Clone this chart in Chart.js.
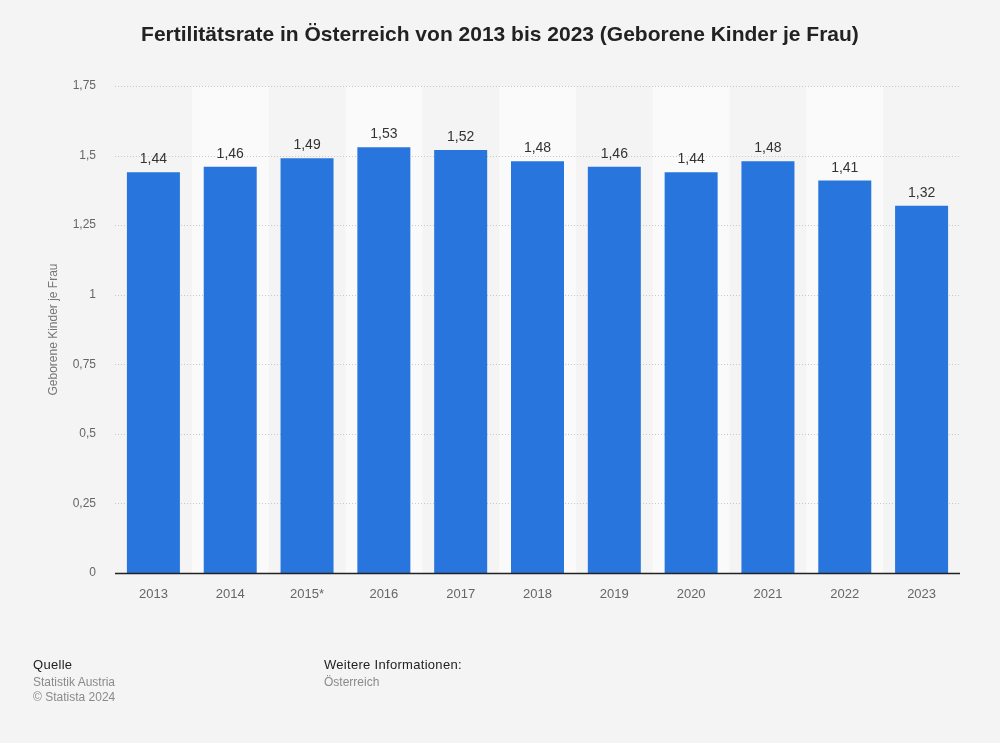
<!DOCTYPE html>
<html>
<head>
<meta charset="utf-8">
<script src="https://cdn.jsdelivr.net/npm/chart.js@4"></script>
<style>
  html, body { margin:0; padding:0; background:#f4f4f4; }
  #wrap { position:relative; width:1000px; height:743px; font-family:"Liberation Sans", Arial, sans-serif; }
  #c { position:absolute; left:0; top:0; }
  .t { position:absolute; white-space:nowrap; }
  #title { left:0; width:1000px; top:22px; text-align:center; font-weight:bold; font-size:21px; color:#222; }
  .f1 { font-size:13px; color:#222; letter-spacing:0.3px; }
  .f2 { font-size:12px; color:#8a8a8a; }
</style>
</head>
<body>
<div id="wrap">
  <canvas id="c" width="1000" height="743"></canvas>
  <div class="t" id="title">Fertilitätsrate in Österreich von 2013 bis 2023 (Geborene Kinder je Frau)</div>
  <div class="t f1" style="left:33px; top:657px;">Quelle</div>
  <div class="t f2" style="left:33px; top:675px;">Statistik Austria</div>
  <div class="t f2" style="left:33px; top:690px;">© Statista 2024</div>
  <div class="t f1" style="left:324px; top:657px;">Weitere Informationen:</div>
  <div class="t f2" style="left:324px; top:675px;">Österreich</div>
</div>
<script>
const categories = ["2013","2014","2015*","2016","2017","2018","2019","2020","2021","2022","2023"];
const values = [1.44,1.46,1.49,1.53,1.52,1.48,1.46,1.44,1.48,1.41,1.32];
const yTicks = [0,0.25,0.5,0.75,1,1.25,1.5,1.75];
const yTitle = "Geborene Kinder je Frau";

const fmt = v => String(v).replace('.', ',');

const bandPlugin = {
  id: 'bands',
  beforeDatasetsDraw(chart) {
    const {ctx, chartArea, scales} = chart;
    const x = scales.x;
    const n = categories.length;
    const w = (chartArea.right - chartArea.left) / n;
    ctx.save();
    for (let i = 0; i < n; i++) {
      if (i % 2 === 1) {
        ctx.fillStyle = '#fafafa';
        const cx = x.getPixelForValue(i);
        ctx.fillRect(cx - w/2, chartArea.top, w, chartArea.bottom - chartArea.top);
      }
    }
    ctx.strokeStyle = '#c8c8c8';
    ctx.lineWidth = 1;
    ctx.setLineDash([1, 2]);
    const y = scales.y;
    yTicks.forEach(t => {
      if (t === 0) return;
      const py = Math.round(y.getPixelForValue(t)) + 0.5;
      ctx.beginPath();
      ctx.moveTo(chartArea.left, py);
      ctx.lineTo(chartArea.right, py);
      ctx.stroke();
    });
    ctx.restore();
  },
  afterDatasetsDraw(chart) {
    const {ctx} = chart;
    const meta = chart.getDatasetMeta(0);
    ctx.save();
    ctx.fillStyle = '#333';
    ctx.font = '14px "Liberation Sans", Arial, sans-serif';
    ctx.textAlign = 'center';
    ctx.textBaseline = 'alphabetic';
    meta.data.forEach((bar, i) => {
      ctx.fillText(fmt(values[i]), bar.x, bar.y - 9);
    });
    const ca = chart.chartArea;
    ctx.strokeStyle = '#222';
    ctx.lineWidth = 1.5;
    ctx.setLineDash([]);
    ctx.beginPath();
    ctx.moveTo(ca.left, ca.bottom + 0.5);
    ctx.lineTo(ca.right, ca.bottom + 0.5);
    ctx.stroke();
    ctx.restore();
  }
};

new Chart(document.getElementById('c'), {
  type: 'bar',
  data: {
    labels: categories,
    datasets: [{
      data: values,
      backgroundColor: '#2876dd',
      borderWidth: 0,
      categoryPercentage: 1,
      barPercentage: 0.69
    }]
  },
  options: {
    responsive: false,
    animation: false,
    events: [],
    layout: { padding: { left: 0, right: 40, top: 86, bottom: 0 } },
    plugins: { legend: { display: false }, tooltip: { enabled: false }, title: { display: false } },
    scales: {
      x: {
        grid: { display: false, drawTicks: false },
        border: { display: false },
        ticks: { color: '#666', font: { size: 13, family: '"Liberation Sans", Arial, sans-serif' }, padding: 14, maxRotation: 0 },
        afterFit(s) { s.height = 170; }
      },
      y: {
        min: 0, max: 1.75,
        afterBuildTicks(s) { s.ticks = yTicks.map(v => ({ value: v })); },
        grid: { display: false, drawTicks: false },
        border: { display: false },
        ticks: { color: '#666', font: { size: 12, family: '"Liberation Sans", Arial, sans-serif' }, padding: 19, callback: v => fmt(v) },
        title: { display: true, text: yTitle, color: '#777', font: { size: 12, family: '"Liberation Sans", Arial, sans-serif' }, padding: { top: 46, bottom: 0 } },
        afterFit(s) { s.width = 115; }
      }
    }
  },
  plugins: [bandPlugin]
});
</script>
</body>
</html>
